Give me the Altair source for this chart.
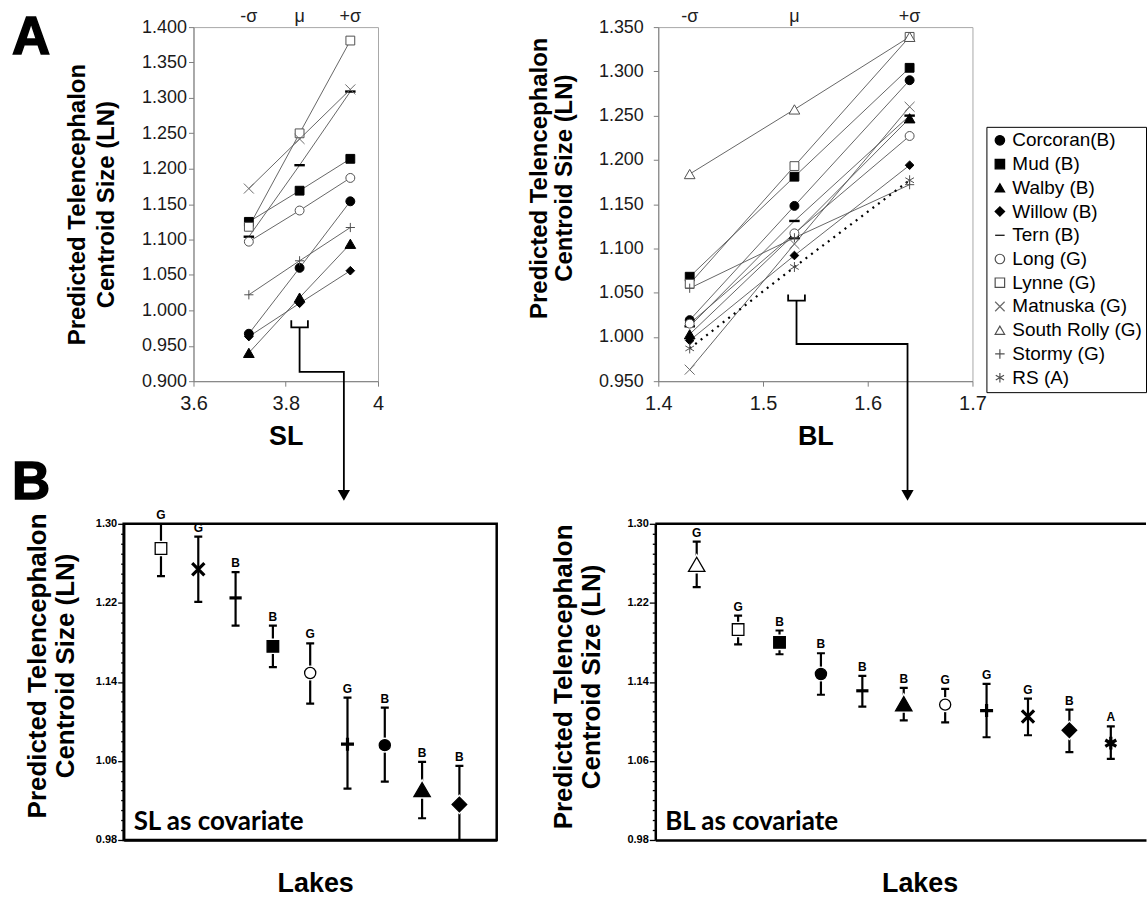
import altair as alt
import pandas as pd

FONT = "Liberation Sans"
YTITLE = ["Predicted Telencephalon", "Centroid Size (LN)"]

# ---------------- Panel A : predicted size at -sigma, mu, +sigma ----------------
sigma_marks = ["-σ", "μ", "+σ"]
sl_levels = [3.72, 3.83, 3.94]
bl_levels = [1.43, 1.53, 1.64]

sl_corcoran = [0.967, 1.060, 1.154]
sl_mud = [1.125, 1.169, 1.214]
sl_walby = [0.940, 1.018, 1.094]
sl_willow = [0.963, 1.010, 1.056]
sl_tern = [1.104, 1.205, 1.309]
sl_long = [1.097, 1.141, 1.187]
sl_lynne = [1.118, 1.250, 1.381]
sl_matnuska = [1.172, 1.242, 1.312]
sl_stormy = [1.022, 1.070, 1.117]

bl_corcoran = [1.019, 1.148, 1.290]
bl_mud = [1.068, 1.181, 1.304]
bl_walby = [1.003, 1.116, 1.247]
bl_willow = [0.996, 1.092, 1.194]
bl_tern = [1.012, 1.131, 1.250]
bl_long = [1.015, 1.117, 1.227]
bl_lynne = [1.060, 1.193, 1.339]
bl_matnuska = [0.963, 1.105, 1.260]
bl_south_rolly = [1.184, 1.257, 1.339]
bl_stormy = [1.055, 1.112, 1.172]
bl_rs = [0.987, 1.079, 1.177]

legend_lakes = ["Corcoran", "Mud", "Walby", "Willow", "Tern", "Long", "Lynne",
                "Matnuska", "South Rolly", "Stormy", "RS"]
legend_text = ["Corcoran(B)", "Mud (B)", "Walby (B)", "Willow (B)", "Tern (B)",
               "Long (G)", "Lynne (G)", "Matnuska (G)", "South Rolly (G)",
               "Stormy (G)", "RS  (A)"]

sl_yticks = [0.900, 0.950, 1.000, 1.050, 1.100, 1.150, 1.200, 1.250, 1.300, 1.350, 1.400]
bl_yticks = [0.950, 1.000, 1.050, 1.100, 1.150, 1.200, 1.250, 1.300, 1.350]
sl_xticks = [3.6, 3.8, 4.0]
bl_xticks = [1.4, 1.5, 1.6, 1.7]

# bracket + connector arrows (in each panel's data units)
sl_bracket_x = [3.812, 3.812, 3.848, 3.848]
sl_bracket_y = [0.986, 0.976, 0.976, 0.986]
sl_stem_x = [3.830, 3.830, 3.926, 3.926]
sl_stem_y = [0.976, 0.913, 0.913, 0.745]
sl_arrow = [3.926, 0.7387]
bl_bracket_x = [1.524, 1.524, 1.540, 1.540]
bl_bracket_y = [1.048, 1.041, 1.041, 1.048]
bl_stem_x = [1.532, 1.532, 1.638, 1.638]
bl_stem_y = [1.041, 0.992, 0.992, 0.826]
bl_arrow = [1.638, 0.821]

# ---------------- Panel B : adjusted means +/- error ----------------
bsl_lakes = ["Lynne", "Matnuska", "Tern", "Mud", "Long", "Stormy", "Corcoran", "Walby", "Willow"]
bsl_group = ["G", "G", "B", "B", "G", "G", "B", "B", "B"]
bsl_mean = [1.275, 1.254, 1.225, 1.176, 1.149, 1.077, 1.076, 1.031, 1.016]
bsl_upper = [1.300, 1.287, 1.251, 1.197, 1.179, 1.124, 1.114, 1.059, 1.055]
bsl_lower = [1.247, 1.221, 1.197, 1.155, 1.118, 1.032, 1.039, 1.002, 0.975]

bbl_lakes = ["South Rolly", "Lynne", "Mud", "Corcoran", "Tern", "Walby", "Long",
             "Stormy", "Matnuska", "Willow", "RS"]
bbl_group = ["G", "G", "B", "B", "B", "B", "G", "G", "G", "B", "A"]
bbl_mean = [1.259, 1.193, 1.180, 1.148, 1.131, 1.118, 1.117, 1.111, 1.105, 1.091, 1.078]
bbl_upper = [1.282, 1.207, 1.192, 1.169, 1.146, 1.134, 1.133, 1.138, 1.123, 1.112, 1.095]
bbl_lower = [1.236, 1.178, 1.168, 1.127, 1.115, 1.101, 1.099, 1.084, 1.086, 1.069, 1.062]

b_yticks = [round(0.98 + 0.01 * i, 2) for i in range(33)]

# ---------------- marker styles ----------------
DASH = "M-1,0L1,0"
CROSS_X = "M-1,-1L1,1M-1,1L1,-1"
PLUS = "M-1,0L1,0M0,-1L0,1"
STAR = "M0,-1L0,1M-0.87,-0.5L0.87,0.5M-0.87,0.5L0.87,-0.5"
marker = {
    "Corcoran": ("circle", "black"), "Mud": ("square", "black"),
    "Walby": ("triangle-up", "black"), "Willow": ("diamond", "black"),
    "Tern": (DASH, "transparent"), "Long": ("circle", "white"),
    "Lynne": ("square", "white"), "Matnuska": (CROSS_X, "transparent"),
    "South Rolly": ("triangle-up", "white"), "Stormy": (PLUS, "transparent"),
    "RS": (STAR, "transparent"),
}
a_size = {"circle": 80, "square": 78, "triangle-up": 115, "diamond": 75,
          DASH: 110, CROSS_X: 100, PLUS: 85, STAR: 100}
b_size = {"circle": 125, "square": 135, "triangle-up": 270, "diamond": 215,
          DASH: 150, CROSS_X: 150, PLUS: 170, STAR: 160}
OPEN_SHAPES = ("circle", "square", "triangle-up", "diamond")


def a_stroke(lake):
    shp, fil = marker[lake]
    if fil == "black" or lake == "Tern":
        return "black"
    if lake == "Matnuska":
        return "#6a6a6a"
    return "#505050"


def a_frame(lakes, levels, series):
    rows = []
    for lake in lakes:
        shp, fil = marker[lake]
        for lv, val in zip(levels, series[lake]):
            rows.append(dict(lake=lake, lab=legend_text[legend_lakes.index(lake)],
                             x=lv, y=val, shape=shp, fill=fil, stroke=a_stroke(lake),
                             size=a_size[shp], sw=2.4 if lake == "Tern" else 1.0))
    return pd.DataFrame(rows)


def b_frame(lakes, group, mean, upper, lower):
    rows = []
    for i, lake in enumerate(lakes):
        shp, fil = marker[lake]
        rows.append(dict(lake=lake, x=i + 1, y=mean[i], hi=upper[i], lo=lower[i], grp=group[i],
                         shape=shp, fill=fil, size=b_size[shp],
                         sw=1.3 if shp in OPEN_SHAPES else 3.2,
                         closed=shp in OPEN_SHAPES))
    return pd.DataFrame(rows)


sl_df = a_frame(["Corcoran", "Mud", "Walby", "Willow", "Tern", "Long", "Lynne", "Matnuska", "Stormy"],
                sl_levels,
                {"Corcoran": sl_corcoran, "Mud": sl_mud, "Walby": sl_walby, "Willow": sl_willow,
                 "Tern": sl_tern, "Long": sl_long, "Lynne": sl_lynne, "Matnuska": sl_matnuska,
                 "Stormy": sl_stormy})
bl_df = a_frame(legend_lakes, bl_levels,
                {"Corcoran": bl_corcoran, "Mud": bl_mud, "Walby": bl_walby, "Willow": bl_willow,
                 "Tern": bl_tern, "Long": bl_long, "Lynne": bl_lynne, "Matnuska": bl_matnuska,
                 "South Rolly": bl_south_rolly, "Stormy": bl_stormy, "RS": bl_rs})


def conn_frame(bx, by, sx, sy):
    rows = []
    for i, (x, y) in enumerate(zip(bx, by)):
        rows.append(dict(seg="bracket", o=i, x=x, y=y))
    for i, (x, y) in enumerate(zip(sx, sy)):
        rows.append(dict(seg="stem", o=i, x=x, y=y))
    return pd.DataFrame(rows)


A_AXIS = dict(labelFont=FONT, titleFont=FONT, labelColor="#1a1a1a", titleColor="black",
              domainColor="#808080", tickColor="#808080", grid=False, labelFlush=False,
              labelOverlap=False, titleFontWeight="bold")


def a_panel(df, levels, xdom, xticks, xtitle, ydom, yticks, ylabpad, ytx, yty, ylh,
            conn, arrow, width, height, legend=None):
    X = alt.X("x:Q", scale=alt.Scale(domain=xdom, nice=False, zero=False),
              axis=alt.Axis(values=xticks, format="~g", title=xtitle, labelFontSize=20,
                            tickSize=5, labelPadding=7, titleFontSize=27, titleY=55,
                            titleBaseline="middle", **A_AXIS))
    Y = alt.Y("y:Q", scale=alt.Scale(domain=ydom, nice=False, zero=False),
              axis=alt.Axis(values=yticks, format=".3f", title=YTITLE, labelFontSize=18,
                            tickSize=5, labelPadding=ylabpad, titleFontSize=24,
                            titleLineHeight=ylh, titleX=ytx, titleY=yty, titleAngle=270,
                            titleBaseline="middle", titleAlign="center", **A_AXIS))
    base = alt.Chart(df)
    lines = base.transform_filter("datum.lake != 'RS'").mark_line(
        color="#555555", strokeWidth=0.9).encode(x=X, y=Y, detail="lake:N")
    rs_line = base.transform_filter("datum.lake == 'RS'").mark_line(
        color="black", strokeWidth=2.2, strokeDash=[2, 5]).encode(x=X, y=Y)
    if legend is None:
        pts = base.mark_point(opacity=1).encode(
            x=X, y=Y,
            shape=alt.Shape("shape:N", scale=None),
            fill=alt.Fill("fill:N", scale=None),
            stroke=alt.Stroke("stroke:N", scale=None),
            size=alt.Size("size:Q", scale=None),
            strokeWidth=alt.StrokeWidth("sw:Q", scale=None))
    else:
        dom = legend_text
        pts = base.mark_point(opacity=1).encode(
            x=X, y=Y,
            shape=alt.Shape("lab:N", scale=alt.Scale(domain=dom, range=[marker[l][0] for l in legend_lakes]), legend=legend),
            fill=alt.Fill("lab:N", scale=alt.Scale(domain=dom, range=[marker[l][1] for l in legend_lakes]), legend=legend),
            stroke=alt.Stroke("lab:N", scale=alt.Scale(domain=dom, range=[a_stroke(l) for l in legend_lakes]), legend=legend),
            size=alt.Size("size:Q", scale=None),
            strokeWidth=alt.StrokeWidth("sw:Q", scale=None))
    sig = alt.Chart(pd.DataFrame({"x": levels, "t": sigma_marks})).mark_text(
        font=FONT, fontSize=18, baseline="middle", color="#222222").encode(
        x=X, y=alt.value(-10), text="t:N")
    con = alt.Chart(conn).mark_line(color="black", strokeWidth=1.8).encode(
        x=X, y=Y, detail="seg:N", order="o:Q")
    arr = alt.Chart(pd.DataFrame({"x": [arrow[0]], "y": [arrow[1]]})).mark_point(
        shape="triangle-down", filled=True, color="black", opacity=1, size=150).encode(x=X, y=Y)
    return alt.layer(lines, rs_line, pts, sig, con, arr).properties(
        width=width, height=height, view=alt.ViewBackground(stroke="#a8a8a8", strokeWidth=1))


legend = alt.Legend(title=None, orient="none", legendX=329, legendY=100, strokeColor="black",
                    fillColor="white", padding=4, cornerRadius=0, labelFont=FONT,
                    labelFontSize=19, labelColor="black", rowPadding=3.8, symbolSize=90,
                    symbolStrokeWidth=1.2, labelLimit=400, labelOffset=3)

a_left = a_panel(sl_df, sl_levels, [3.6, 4.0], sl_xticks, "SL", [0.9, 1.4], sl_yticks, 2,
                 -116, 177.5, 29, conn_frame(sl_bracket_x, sl_bracket_y, sl_stem_x, sl_stem_y),
                 sl_arrow, 185, 355)
a_right = a_panel(bl_df, bl_levels, [1.4, 1.7], bl_xticks, "BL", [0.95, 1.35], bl_yticks, 10,
                  -119, 151, 25, conn_frame(bl_bracket_x, bl_bracket_y, bl_stem_x, bl_stem_y),
                  bl_arrow, 315, 355, legend=legend)

MAJOR = "(round(datum.value*100) - 98) % 8 == 0"


def b_panel(df, xmax, width, title_x, title_y, lakes_x, cov_text, letter=None, top_rule=False):
    xscale = alt.Scale(domain=[0, xmax], nice=False, zero=False)
    xaxis = alt.Axis(labels=False, ticks=False, grid=False, domainColor="black",
                     domainWidth=2.5, title="Lakes", titleFont=FONT, titleFontSize=27,
                     titleFontWeight="bold", titleColor="black", titleX=lakes_x,
                     titleY=44, titleBaseline="middle")
    X = alt.X("x:Q", scale=xscale, axis=xaxis)
    yscale = alt.Scale(domain=[0.98, 1.30], nice=False, zero=False)
    yaxis = alt.Axis(values=b_yticks, labelExpr=MAJOR + " ? format(datum.value, '.2f') : ''",
                     tickSize={"condition": {"test": MAJOR, "value": 6}, "value": 3},
                     labelFont=FONT, labelFontSize=11, labelFontWeight="bold", labelColor="black",
                     labelPadding=1, tickColor="black", tickWidth=1.3, domainColor="black",
                     domainWidth=2.5, grid=False, labelOverlap=False,
                     title=YTITLE, titleFont=FONT, titleFontSize=26, titleFontWeight="bold",
                     titleColor="black", titleLineHeight=28, titleX=title_x, titleY=title_y,
                     titleAngle=270, titleBaseline="middle", titleAlign="center")

    def Y(f):
        return alt.Y(f, scale=yscale, axis=yaxis)

    base = alt.Chart(df)
    bars = base.mark_rule(color="black", strokeWidth=2.2, clip=True).encode(
        x=X, y=Y("lo:Q"), y2="hi:Q")
    cap_hi = base.mark_tick(color="black", orient="horizontal", size=8, thickness=2.2,
                            clip=True, opacity=1).encode(x=X, y=Y("hi:Q"))
    cap_lo = base.mark_tick(color="black", orient="horizontal", size=8, thickness=2.2,
                            clip=True, opacity=1).encode(x=X, y=Y("lo:Q"))
    halo = base.transform_filter("datum.closed").mark_point(
        opacity=1, fill="white", stroke="white", strokeWidth=4).encode(
        x=X, y=Y("y:Q"), shape=alt.Shape("shape:N", scale=None),
        size=alt.Size("size:Q", scale=None))
    pts = base.mark_point(opacity=1, stroke="black").encode(
        x=X, y=Y("y:Q"), shape=alt.Shape("shape:N", scale=None),
        fill=alt.Fill("fill:N", scale=None), size=alt.Size("size:Q", scale=None),
        strokeWidth=alt.StrokeWidth("sw:Q", scale=None))
    labs = base.mark_text(font=FONT, fontSize=12, fontWeight="bold", color="black",
                          baseline="middle", dy=-9).encode(x=X, y=Y("hi:Q"), text="grp:N")
    cov = alt.Chart(pd.DataFrame({"t": [cov_text]})).mark_text(
        font="Lato", fontSize=26, fontWeight="bold", align="left", baseline="alphabetic",
        color="black").encode(x=alt.value(10), y=alt.value(307), text="t:N")
    layers = [bars, cap_hi, cap_lo, halo, pts, labs, cov]
    if top_rule:
        layers.append(alt.Chart(pd.DataFrame({"a": [0], "b": [xmax], "y": [1.30]})).mark_rule(
            color="black", strokeWidth=2.5).encode(x=alt.X("a:Q", scale=xscale, axis=xaxis),
                                                    x2="b:Q", y=Y("y:Q")))
    if letter is not None:
        layers.append(alt.Chart(pd.DataFrame({"t": [letter]})).mark_text(
            font=FONT, fontSize=53, fontWeight="bold", align="left", baseline="top",
            color="black", stroke="black", strokeWidth=1.5).encode(
            x=alt.value(-112), y=alt.value(-67), text="t:N"))
    view = (alt.ViewBackground(stroke=None) if top_rule
            else alt.ViewBackground(stroke="black", strokeWidth=2.5))
    return alt.layer(*layers).properties(width=width, height=317, view=view)


b_left = b_panel(b_frame(bsl_lakes, bsl_group, bsl_mean, bsl_upper, bsl_lower), 10, 374,
                 -86, 142, 192, "SL as covariate", letter="B")
b_right = b_panel(b_frame(bbl_lakes, bbl_group, bbl_mean, bbl_upper, bbl_lower), 11.85, 492,
                  -92, 153, 265, "BL as covariate", top_rule=True)

spacer = alt.Chart(pd.DataFrame({"t": ["A"]})).mark_text(
    font=FONT, fontSize=53, fontWeight="bold", align="left", baseline="top", color="black",
    stroke="black", strokeWidth=1.5).encode(
    x=alt.value(-112), y=alt.value(-15), text="t:N").properties(
    width=1, height=1, view=alt.ViewBackground(stroke=None))

RES = dict(shape="independent", fill="independent", stroke="independent")
inner_a = alt.hconcat(a_left, a_right, spacing=281, bounds="flush").resolve_scale(**RES).resolve_legend(**RES)
row1 = alt.hconcat(spacer, inner_a, spacing=69, bounds="flush").resolve_scale(**RES).resolve_legend(**RES)
row2 = alt.hconcat(b_left, b_right, spacing=159, bounds="flush").resolve_scale(**RES).resolve_legend(**RES)

chart = alt.vconcat(row1, row2, spacing=498, bounds="flush").resolve_scale(**RES).resolve_legend(**RES).properties(
    padding={"left": 10, "top": 6, "right": 0, "bottom": 0}, background="white")

chart.save("out.html", embed_options={"renderer": "svg", "actions": False})
